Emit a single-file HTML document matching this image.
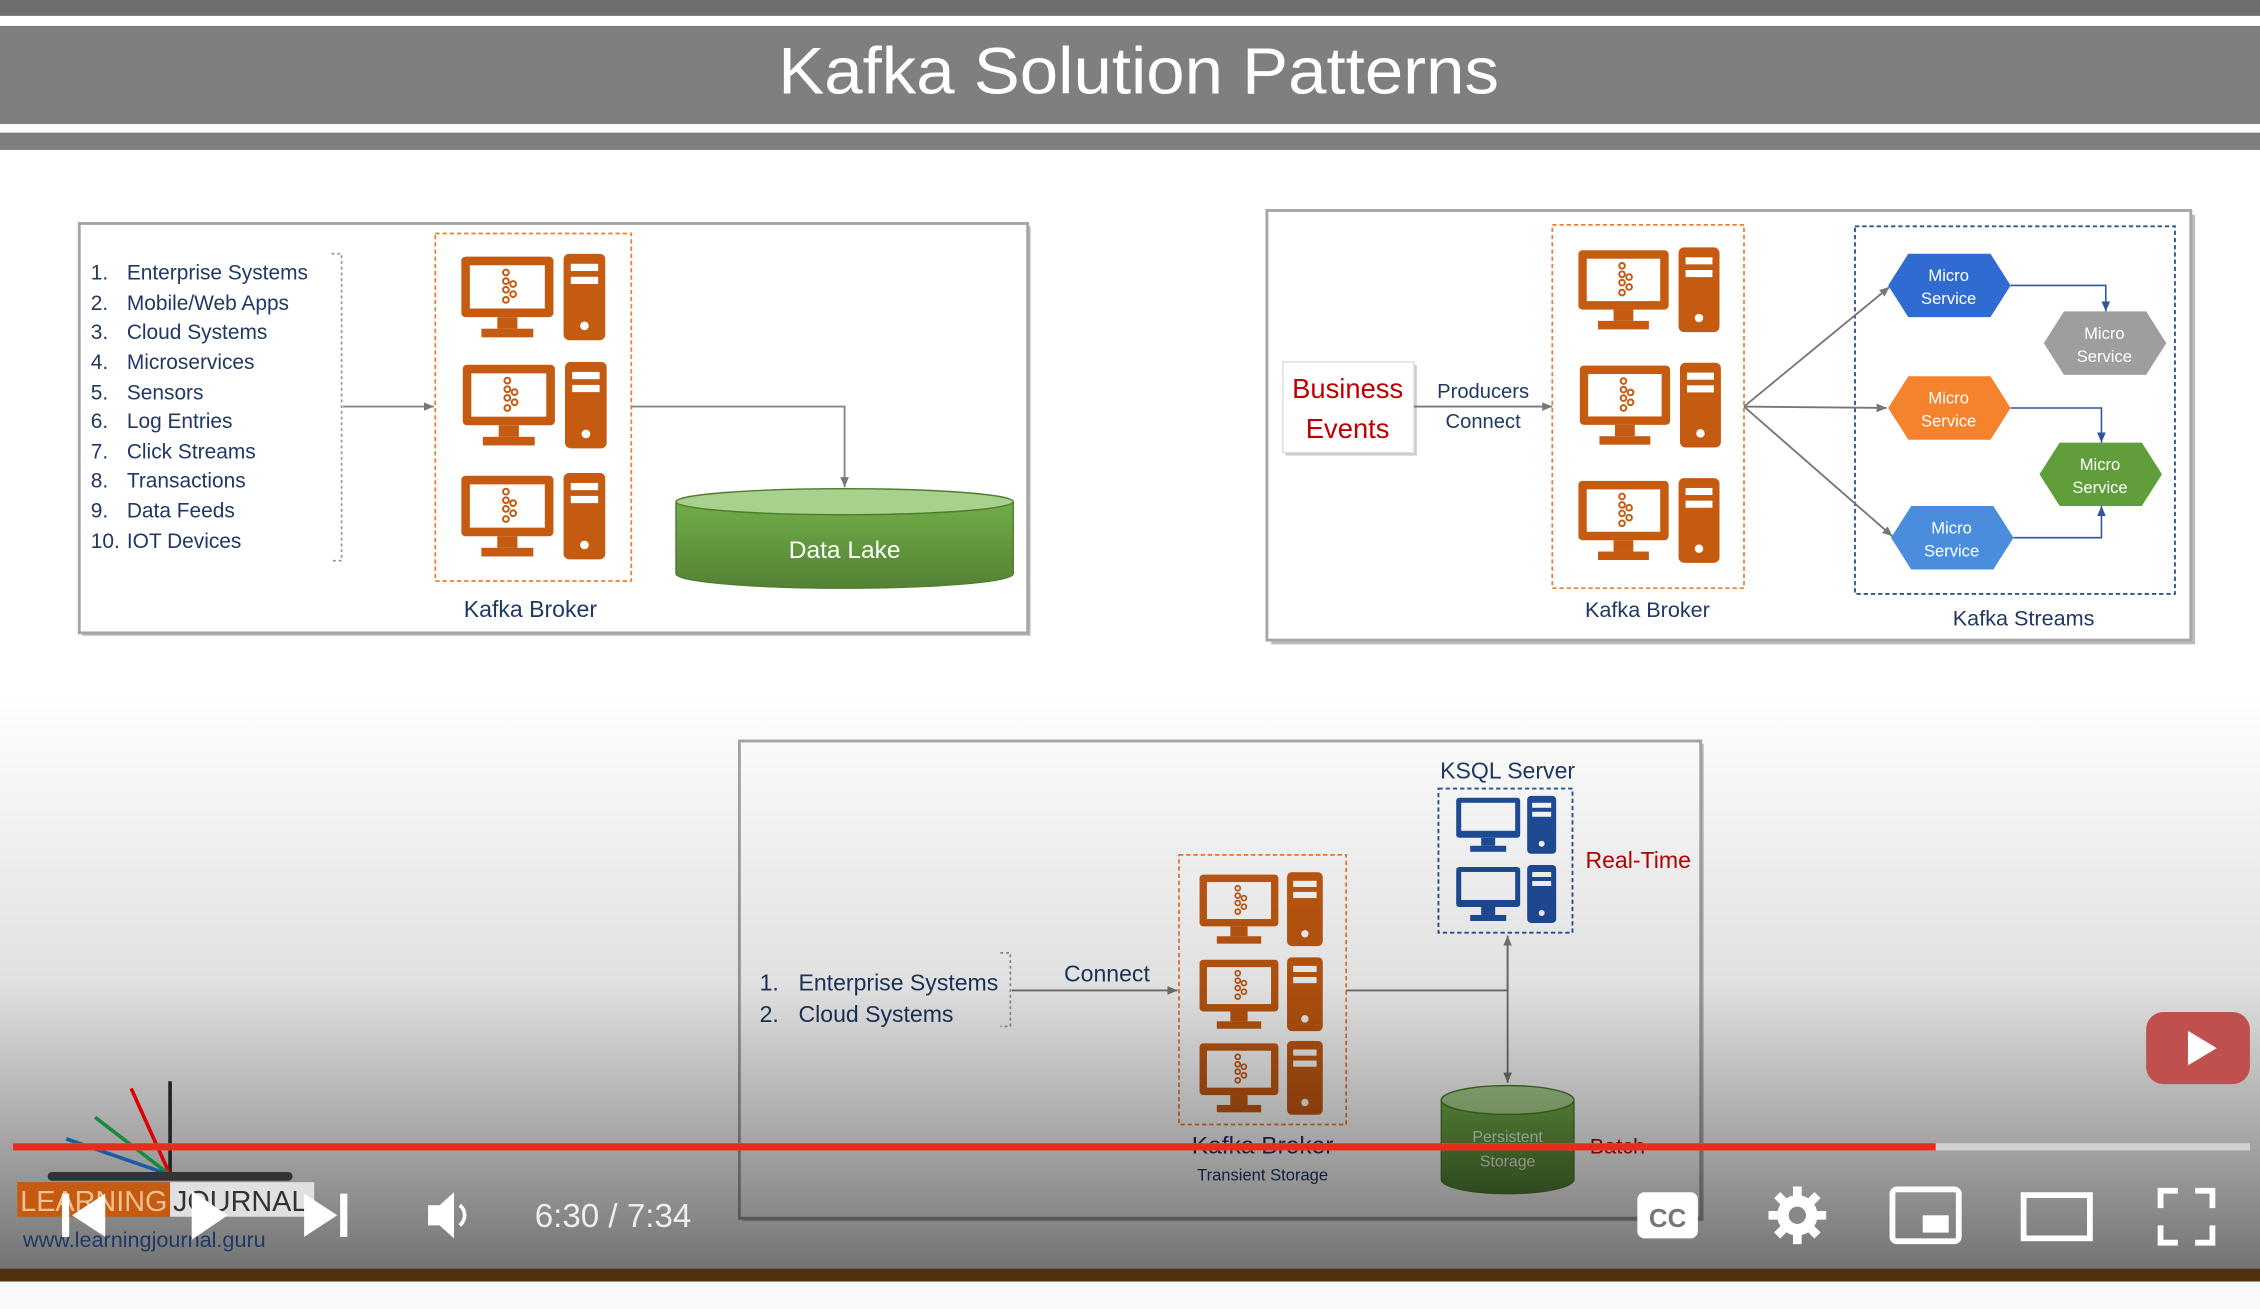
<!DOCTYPE html>
<html><head><meta charset="utf-8"><style>
html,body{margin:0;padding:0;background:#fff;}
svg{display:block;}
text{font-family:"Liberation Sans",sans-serif;}
</style></head><body>
<svg width="2260" height="1309" viewBox="0 0 1568 908" preserveAspectRatio="none" xmlns="http://www.w3.org/2000/svg">
<defs>
<symbol id="srv" viewBox="0 0 100 62">
<rect x="0" y="2" width="64" height="42" rx="3" fill="#c55a11"/>
<rect x="6" y="8" width="52" height="30" fill="#fff"/>
<rect x="25" y="44" width="14" height="8" fill="#c55a11"/>
<rect x="14" y="52" width="36" height="6" fill="#c55a11"/>
<rect x="71" y="0" width="29" height="60" rx="4" fill="#c55a11"/>
<rect x="76" y="7" width="19" height="5" fill="#fff"/>
<rect x="76" y="16" width="19" height="5" fill="#fff"/>
<circle cx="85.5" cy="50" r="3" fill="#fff"/>
<g fill="none" stroke="#c55a11" stroke-width="1.4">
<circle cx="31" cy="13" r="2"/><circle cx="31" cy="19" r="2"/><circle cx="31" cy="25" r="2"/><circle cx="31" cy="32" r="2"/>
<circle cx="36" cy="21" r="2"/><circle cx="36" cy="28" r="2"/>
</g>
</symbol>
<symbol id="bsrv" viewBox="0 0 100 62">
<rect x="0" y="2" width="64" height="40" rx="3" fill="#1f4e9c"/>
<rect x="5" y="7" width="54" height="28" fill="#fff"/>
<rect x="25" y="42" width="14" height="8" fill="#1f4e9c"/>
<rect x="14" y="50" width="36" height="6" fill="#1f4e9c"/>
<rect x="71" y="0" width="29" height="58" rx="4" fill="#1f4e9c"/>
<rect x="76" y="7" width="19" height="5" fill="#fff"/>
<rect x="76" y="16" width="19" height="5" fill="#fff"/>
<circle cx="85.5" cy="48" r="3" fill="#fff"/>
</symbol>
<marker id="ar" markerWidth="8" markerHeight="8" refX="7" refY="4" orient="auto" markerUnits="userSpaceOnUse"><path d="M0,1 L7,4 L0,7z" fill="#777"/></marker>
<marker id="arb" markerWidth="8" markerHeight="8" refX="7" refY="4" orient="auto" markerUnits="userSpaceOnUse"><path d="M0,1 L7,4 L0,7z" fill="#2f5597"/></marker>
<linearGradient id="yt" x1="0" y1="0" x2="0" y2="1">
<stop offset="0" stop-color="#000" stop-opacity="0"/>
<stop offset="0.5" stop-color="#000" stop-opacity="0.12"/>
<stop offset="1" stop-color="#000" stop-opacity="0.55"/>
</linearGradient>
<linearGradient id="cyl" x1="0" y1="0" x2="0" y2="1"><stop offset="0" stop-color="#70ad47"/><stop offset="1" stop-color="#548235"/></linearGradient>
</defs>

<rect x="0" y="0" width="1568" height="11" fill="#6f6f6f"/>
<rect x="0" y="18" width="1568" height="68" fill="#7f7f7f"/>
<rect x="0" y="92" width="1568" height="12" fill="#7f7f7f"/>
<text x="540" y="65" font-size="46" fill="#fff" textLength="500" lengthAdjust="spacingAndGlyphs">Kafka Solution Patterns</text>

<rect x="57" y="157" width="658" height="284" fill="#bbb"/>
<rect x="55" y="155" width="658" height="284" fill="#fff" stroke="#a6a6a6" stroke-width="2"/>
<g font-size="14.5" fill="#1f3864">
<text x="63" y="194">1.</text><text x="88" y="194">Enterprise Systems</text>
<text x="63" y="215">2.</text><text x="88" y="215">Mobile/Web Apps</text>
<text x="63" y="235">3.</text><text x="88" y="235">Cloud Systems</text>
<text x="63" y="256">4.</text><text x="88" y="256">Microservices</text>
<text x="63" y="277">5.</text><text x="88" y="277">Sensors</text>
<text x="63" y="297">6.</text><text x="88" y="297">Log Entries</text>
<text x="63" y="318">7.</text><text x="88" y="318">Click Streams</text>
<text x="63" y="338">8.</text><text x="88" y="338">Transactions</text>
<text x="63" y="359">9.</text><text x="88" y="359">Data Feeds</text>
<text x="63" y="380">10.</text><text x="88" y="380">IOT Devices</text>
</g>
<path d="M230,176 H237 V389 H230" fill="none" stroke="#999" stroke-width="1.2" stroke-dasharray="2,2"/>
<line x1="238" y1="282" x2="301" y2="282" stroke="#888" stroke-width="1.3" marker-end="url(#ar)"/>
<rect x="302" y="162" width="136" height="241" fill="none" stroke="#ed7d31" stroke-width="1.2" stroke-dasharray="3,2"/>
<use href="#srv" x="320" y="176" width="100" height="62"/>
<use href="#srv" x="321" y="251" width="100" height="62"/>
<use href="#srv" x="320" y="328" width="100" height="62"/>
<polyline points="438,282 586,282 586,338" fill="none" stroke="#888" stroke-width="1.3" marker-end="url(#ar)"/>
<path d="M469,348 V398 A117,10 0 0 0 703,398 V348" fill="url(#cyl)" stroke="#4e7d2e" stroke-width="1"/>
<ellipse cx="586" cy="348" rx="117" ry="9" fill="#a9d18e" stroke="#4e7d2e" stroke-width="1"/>
<text x="586" y="387" font-size="17" fill="#fff" text-anchor="middle">Data Lake</text>
<text x="368" y="428" font-size="16" fill="#1f3864" text-anchor="middle">Kafka Broker</text>

<rect x="882" y="149" width="641" height="298" fill="#bbb"/>
<rect x="879" y="146" width="641" height="298" fill="#fff" stroke="#a6a6a6" stroke-width="2"/>
<rect x="892" y="253" width="91" height="63" fill="#ccc"/>
<rect x="890" y="251" width="91" height="63" fill="#fff" stroke="#ddd"/>
<text x="935" y="276" font-size="19" fill="#c00000" text-anchor="middle">Business</text>
<text x="935" y="304" font-size="19" fill="#c00000" text-anchor="middle">Events</text>
<text x="1029" y="276" font-size="14" fill="#1f3864" text-anchor="middle">Producers</text>
<text x="1029" y="297" font-size="14" fill="#1f3864" text-anchor="middle">Connect</text>
<line x1="981" y1="282" x2="1077" y2="282" stroke="#777" stroke-width="1.3" marker-end="url(#ar)"/>
<rect x="1077" y="156" width="133" height="252" fill="none" stroke="#ed7d31" stroke-width="1.2" stroke-dasharray="3,2"/>
<use href="#srv" x="1095" y="171" width="98" height="62"/>
<use href="#srv" x="1096" y="251" width="98" height="62"/>
<use href="#srv" x="1095" y="331" width="98" height="62"/>
<rect x="1287" y="157" width="222" height="255" fill="none" stroke="#2f5597" stroke-width="1.3" stroke-dasharray="3,2"/>
<g stroke="#777" stroke-width="1.3" fill="none">
<line x1="1210" y1="282" x2="1311" y2="199" marker-end="url(#ar)"/>
<line x1="1210" y1="282" x2="1309" y2="283" marker-end="url(#ar)"/>
<line x1="1210" y1="282" x2="1313" y2="372" marker-end="url(#ar)"/>
</g>
<g stroke="#2f5597" stroke-width="1.1" fill="none">
<polyline points="1395,198 1461,198 1461,216" marker-end="url(#arb)"/>
<polyline points="1395,283 1458,283 1458,307" marker-end="url(#arb)"/>
<polyline points="1397,373 1458,373 1458,351" marker-end="url(#arb)"/>
</g>
<g font-size="11.5" fill="#fff" text-anchor="middle">
<polygon points="1310,198 1324,176 1381,176 1395,198 1381,220 1324,220" fill="#2f6bd1"/>
<text x="1352" y="195">Micro</text><text x="1352" y="211">Service</text>
<polygon points="1418,238 1432,216 1489,216 1503,238 1489,260 1432,260" fill="#9e9e9e"/>
<text x="1460" y="235">Micro</text><text x="1460" y="251">Service</text>
<polygon points="1310,283 1324,261 1381,261 1395,283 1381,305 1324,305" fill="#f5822d"/>
<text x="1352" y="280">Micro</text><text x="1352" y="296">Service</text>
<polygon points="1415,329 1429,307 1486,307 1500,329 1486,351 1429,351" fill="#5f9e3a"/>
<text x="1457" y="326">Micro</text><text x="1457" y="342">Service</text>
<polygon points="1312,373 1326,351 1383,351 1397,373 1383,395 1326,395" fill="#4a8ddd"/>
<text x="1354" y="370">Micro</text><text x="1354" y="386">Service</text>
</g>
<text x="1143" y="428" font-size="15" fill="#1f3864" text-anchor="middle">Kafka Broker</text>
<text x="1404" y="434" font-size="15" fill="#1f3864" text-anchor="middle">Kafka Streams</text>

<rect x="515" y="516" width="667" height="331" fill="#bbb"/>
<rect x="513" y="514" width="667" height="331" fill="#fff" stroke="#a6a6a6" stroke-width="2"/>
<text x="1046" y="540" font-size="16" fill="#1f3864" text-anchor="middle">KSQL Server</text>
<rect x="998" y="547" width="93" height="100" fill="none" stroke="#2f5597" stroke-width="1.3" stroke-dasharray="3,2"/>
<use href="#bsrv" x="1007" y="552" width="76" height="43"/>
<use href="#bsrv" x="1007" y="600" width="76" height="43"/>
<text x="1100" y="602" font-size="16" fill="#c00000">Real-Time</text>
<g font-size="16" fill="#1f3864">
<text x="527" y="687">1.</text><text x="554" y="687">Enterprise Systems</text>
<text x="527" y="709">2.</text><text x="554" y="709">Cloud Systems</text>
</g>
<path d="M694,661 H701 V712 H694" fill="none" stroke="#999" stroke-width="1.2" stroke-dasharray="2,2"/>
<line x1="702" y1="687" x2="817" y2="687" stroke="#777" stroke-width="1.3" marker-end="url(#ar)"/>
<text x="768" y="681" font-size="16" fill="#1f3864" text-anchor="middle">Connect</text>
<rect x="818" y="593" width="116" height="187" fill="none" stroke="#ed7d31" stroke-width="1.2" stroke-dasharray="3,2"/>
<use href="#srv" x="832" y="605" width="86" height="53"/>
<use href="#srv" x="832" y="664" width="86" height="53"/>
<use href="#srv" x="832" y="722" width="86" height="53"/>
<line x1="934" y1="687" x2="1046" y2="687" stroke="#777" stroke-width="1.3"/>
<line x1="1046" y1="655" x2="1046" y2="751" stroke="#777" stroke-width="1.3" marker-end="url(#ar)"/>
<line x1="1046" y1="687" x2="1046" y2="649" stroke="#777" stroke-width="1.3" marker-end="url(#ar)"/>
<path d="M1000,763 V818 A46,10 0 0 0 1092,818 V763" fill="url(#cyl)" stroke="#4e7d2e"/>
<ellipse cx="1046" cy="763" rx="46" ry="10" fill="#a9d18e" stroke="#4e7d2e"/>
<text x="1046" y="792" font-size="11" fill="#e8f0e0" text-anchor="middle">Persistent</text>
<text x="1046" y="809" font-size="11" fill="#e8f0e0" text-anchor="middle">Storage</text>
<text x="1103" y="800" font-size="15" fill="#c00000">Batch</text>
<text x="876" y="800" font-size="17" fill="#1f3864" text-anchor="middle">Kafka Broker</text>
<text x="876" y="819" font-size="11.5" fill="#1f3864" text-anchor="middle">Transient Storage</text>

<rect x="0" y="480" width="1568" height="402" fill="url(#yt)"/>
<rect x="0" y="880" width="1568" height="9" fill="#53300f"/>
<rect x="0" y="889" width="1568" height="19" fill="#f9f9f9"/>

<g stroke-width="2.5">
<line x1="118" y1="750" x2="118" y2="815" stroke="#222"/>
<line x1="91" y1="755" x2="118" y2="815" stroke="#d00"/>
<line x1="66" y1="775" x2="118" y2="815" stroke="#1a8a3a"/>
<line x1="46" y1="790" x2="118" y2="815" stroke="#1f5aa6"/>
</g>
<rect x="33" y="813" width="170" height="6" rx="3" fill="#333"/>
<rect x="12" y="820" width="106" height="24" fill="#c55a11"/>
<rect x="118" y="820" width="100" height="24" fill="#e0e0e0"/>
<text x="14" y="840" font-size="20" fill="#f0c090">LEARNING</text>
<text x="120" y="840" font-size="20" fill="#333">JOURNAL</text>
<text x="16" y="865" font-size="15" fill="#1f3864">www.learningjournal.guru</text>

<rect x="1489" y="702" width="72" height="50" rx="12" fill="#c0504d"/>
<polygon points="1518,715 1518,739 1538,727" fill="#fff"/>

<rect x="9" y="793" width="1552" height="5" fill="#ddd" opacity="0.8"/>
<rect x="9" y="793" width="1334" height="5" fill="#e52d1b"/>

<g fill="#fff">
<rect x="43" y="828" width="5" height="30"/><polygon points="73,828 73,858 50,843"/>
<polygon points="133,826 133,860 158,843"/>
<polygon points="211,828 211,858 234,843"/><rect x="236" y="828" width="5" height="30"/>
<polygon points="297,836 305,836 315,827 315,859 305,850 297,850"/>
<path d="M319,836 A9,9 0 0 1 319,850" fill="none" stroke="#fff" stroke-width="2.5"/>
<text x="371" y="851" font-size="23" fill="#eee">6:30 / 7:34</text>
<rect x="1136" y="827" width="42" height="32" rx="5"/>
<text x="1157" y="851" font-size="18" font-weight="bold" fill="#777" text-anchor="middle">CC</text>
<circle cx="1247" cy="843" r="14"/>
<g stroke="#fff" stroke-width="6"><line x1="1247" y1="823" x2="1247" y2="863"/><line x1="1227" y1="843" x2="1267" y2="843"/><line x1="1233" y1="829" x2="1261" y2="857"/><line x1="1261" y1="829" x2="1233" y2="857"/></g>
<circle cx="1247" cy="843" r="6" fill="#888"/>
<rect x="1313" y="825" width="46" height="36" rx="3" fill="none" stroke="#fff" stroke-width="4"/>
<rect x="1334" y="843" width="18" height="12"/>
<rect x="1404" y="829" width="46" height="30" fill="none" stroke="#fff" stroke-width="4"/>
<path d="M1499,838 V826 H1511 M1523,826 H1535 V838 M1535,850 V862 H1523 M1511,862 H1499 V850" fill="none" stroke="#fff" stroke-width="4"/>
</g>
</svg>
</body></html>
